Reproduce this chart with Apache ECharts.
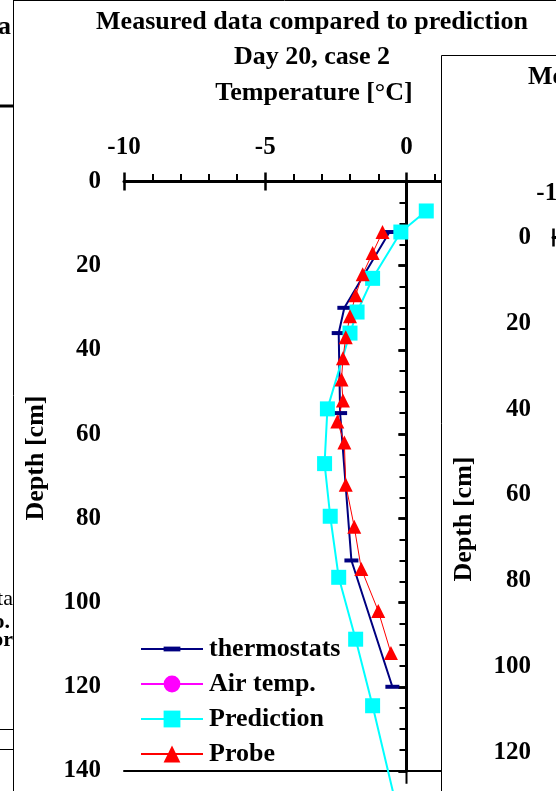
<!DOCTYPE html>
<html><head><meta charset="utf-8">
<script src="https://cdn.jsdelivr.net/npm/echarts@6/dist/echarts.min.js"></script>
<style>html,body{margin:0;padding:0;background:#fff}#c{width:556px;height:791px}</style>
</head><body><div id="c"></div>
<script>
// ---- chart text ----
const titleLines = ['Measured data compared to prediction', 'Day 20, case 2'];
const xAxisName = 'Temperature [°C]';
const yAxisName = 'Depth [cm]';
const seriesNames = ['thermostats', 'Air temp.', 'Prediction', 'Probe'];

// ---- data (temperature °C, depth cm) ----
const thermoDepth = [12, 30, 36, 55, 90, 120];
const thermoTemp  = [-0.6, -2.2, -2.4, -2.35, -1.95, -0.5];
const airDepth = [];
const airTemp  = [];
const predDepth = [7, 12, 23, 31, 36, 54, 67, 79.5, 94, 108.7, 124.5, 150];
const predTemp  = [0.7, -0.2, -1.2, -1.75, -2.0, -2.8, -2.9, -2.7, -2.4, -1.8, -1.2, -0.3];
const probeDepth = [12, 17, 22, 27, 32, 37, 42, 47, 52, 57, 62, 72, 82, 92, 102, 112];
const probeTemp  = [-0.85, -1.2, -1.55, -1.8, -2.0, -2.15, -2.25, -2.3, -2.25, -2.45, -2.2, -2.15, -1.85, -1.6, -1.0, -0.55];
const zeroLineTemp = [0, 0];
const zeroLineDepth = [0, 143];

// ---- axis ranges ----
const xMin = -10, xMax = 5, xInterval = 5;
const yMin = 0, yMax = 140, yInterval = 20;

const FONT = '"Liberation Serif", "Times New Roman", serif';
const pairs = (xs, ys) => xs.map((v, i) => [v, ys[i]]);
const lbl = {fontFamily: FONT, fontWeight: 'bold', fontSize: 25, color: '#000'};
const dashPath = 'path://M0,0M14,14M0,5H14V9H0Z';

function valueX(gridIndex, extra) {
  return Object.assign({
    type: 'value', gridIndex, min: xMin, max: xMax, interval: xInterval,
    splitLine: {show: false}
  }, extra);
}
function valueY(gridIndex, extra) {
  return Object.assign({
    type: 'value', gridIndex, inverse: true, min: yMin, max: yMax, interval: yInterval,
    splitLine: {show: false}
  }, extra);
}
const mainLine = {show: true, lineStyle: {color: '#000', width: 3}};
const majorOut = {show: true, inside: false, length: 9, lineStyle: {color: '#000', width: 2.5}};
const majorIn = {show: true, inside: true, length: 9, lineStyle: {color: '#000', width: 2.5}};

const chart = echarts.init(document.getElementById('c'));
chart.setOption({
  animation: false,
  backgroundColor: '#fff',
  grid: [
    {left: 124, top: 181.5, width: 423.75, height: 589.5, outerBoundsMode: 'none', containLabel: false},
    {left: 553, top: 237.5, width: 400, height: 600.6, outerBoundsMode: 'none', containLabel: false}
  ],
  xAxis: [
    valueX(0, {position: 'top', axisLine: mainLine, axisTick: majorOut,
      minorTick: {show: true, splitNumber: 5, length: 7.5, lineStyle: {color: '#000', width: 2}},
      axisLabel: Object.assign({margin: 21}, lbl)}),
    valueX(0, {position: 'top', axisLine: {show: false}, axisTick: majorIn, axisLabel: {show: false}}),
    valueX(0, {position: 'bottom', axisLine: {show: true, lineStyle: {color: '#000', width: 2}},
      axisTick: {show: false}, axisLabel: {show: false}}),
    valueX(1, {position: 'top', z: 30, axisLine: mainLine, axisTick: majorOut,
      minorTick: {show: true, splitNumber: 5, length: 7.5, lineStyle: {color: '#000', width: 2}},
      axisLabel: Object.assign({margin: 31}, lbl)}),
    valueX(1, {position: 'top', z: 30, axisLine: {show: false}, axisTick: majorIn, axisLabel: {show: false}})
  ],
  yAxis: [
    valueY(0, {axisLine: mainLine, axisTick: Object.assign({}, majorOut, {length: 8}),
      minorTick: {show: true, splitNumber: 4, length: 7, lineStyle: {color: '#000', width: 2}},
      axisLabel: Object.assign({margin: 23}, lbl)}),
    valueY(0, {axisLine: {show: false}, axisTick: Object.assign({}, majorIn, {length: 8}), axisLabel: {show: false}}),
    valueY(1, {z: 30, axisLine: mainLine, axisTick: Object.assign({}, majorOut, {length: 8}),
      minorTick: {show: true, splitNumber: 4, length: 7, lineStyle: {color: '#000', width: 2}},
      axisLabel: Object.assign({margin: 22}, lbl)}),
    valueY(1, {z: 30, axisLine: {show: false}, axisTick: Object.assign({}, majorIn, {length: 8}), axisLabel: {show: false}})
  ],
  legend: {
    orient: 'vertical', left: 140, top: 636, itemWidth: 62, itemHeight: 21, itemGap: 9,
    padding: 0,
    textStyle: {fontFamily: FONT, fontWeight: 'bold', fontSize: 26, color: '#000', padding: [0, 0, 0, 1]},
    data: seriesNames
  },
  series: [
    {type: 'line', name: 'zero', xAxisIndex: 0, yAxisIndex: 0, data: pairs(zeroLineTemp, zeroLineDepth),
      symbol: 'none', clip: false, silent: true, z: 1, lineStyle: {color: '#000', width: 2}},
    {type: 'line', name: seriesNames[0], xAxisIndex: 0, yAxisIndex: 0, data: pairs(thermoTemp, thermoDepth),
      symbol: dashPath, symbolSize: 14, color: '#000080', lineStyle: {color: '#000080', width: 2},
      itemStyle: {color: '#000080'}, clip: false},
    {type: 'line', name: seriesNames[1], xAxisIndex: 0, yAxisIndex: 0, data: pairs(airTemp, airDepth),
      symbol: 'circle', symbolSize: 14, color: '#FF00FF', lineStyle: {color: '#FF00FF', width: 2},
      itemStyle: {color: '#FF00FF'}},
    {type: 'line', name: seriesNames[2], xAxisIndex: 0, yAxisIndex: 0, data: pairs(predTemp, predDepth),
      symbol: 'rect', symbolSize: 15, color: '#00FFFF', lineStyle: {color: '#00FFFF', width: 2},
      itemStyle: {color: '#00FFFF'}, clip: false},
    {type: 'line', name: seriesNames[3], xAxisIndex: 0, yAxisIndex: 0, data: pairs(probeTemp, probeDepth),
      symbol: 'triangle', symbolSize: 14, color: '#FF0000', lineStyle: {color: '#FF0000', width: 1},
      itemStyle: {color: '#FF0000'}, clip: false}
  ],
  graphic: [
    // fragments of the neighbouring chart on the left
    {type: 'text', x: 11, y: 27, z: -2, style: {text: 'a', font: 'bold 26px ' + FONT, fill: '#000', align: 'right', verticalAlign: 'middle'}},
    {type: 'line', z: -2, shape: {x1: 0, y1: 106, x2: 13, y2: 106}, style: {stroke: '#000', lineWidth: 3}},
    {type: 'text', x: 13, y: 599, z: -2, style: {text: 'ta', font: '22px ' + FONT, fill: '#000', align: 'right', verticalAlign: 'middle'}},
    {type: 'text', x: 10, y: 622, z: -2, style: {text: 'o.', font: 'bold 22px ' + FONT, fill: '#000', align: 'right', verticalAlign: 'middle'}},
    {type: 'text', x: 13, y: 640, z: -2, style: {text: 'or', font: 'bold 22px ' + FONT, fill: '#000', align: 'right', verticalAlign: 'middle'}},
    {type: 'line', z: -2, shape: {x1: 0, y1: 729.5, x2: 13, y2: 729.5}, style: {stroke: '#000', lineWidth: 1}},
    {type: 'line', z: -2, shape: {x1: 0, y1: 749.5, x2: 13, y2: 749.5}, style: {stroke: '#000', lineWidth: 1}},
    // frame of this chart
    {type: 'line', z: -1, shape: {x1: 13.5, y1: 0, x2: 13.5, y2: 791}, style: {stroke: '#000', lineWidth: 1}},
    {type: 'line', z: -1, shape: {x1: 13, y1: 0.5, x2: 556, y2: 0.5}, style: {stroke: '#000', lineWidth: 1}},
    // titles
    {type: 'text', x: 312, y: 22, style: {text: titleLines[0], font: 'bold 26px ' + FONT, fill: '#000', align: 'center', verticalAlign: 'middle'}},
    {type: 'text', x: 312, y: 57, style: {text: titleLines[1], font: 'bold 26px ' + FONT, fill: '#000', align: 'center', verticalAlign: 'middle'}},
    {type: 'text', x: 314, y: 93, style: {text: xAxisName, font: 'bold 26px ' + FONT, fill: '#000', align: 'center', verticalAlign: 'middle'}},
    {type: 'text', x: 36, y: 458, rotation: Math.PI / 2, style: {text: yAxisName, font: 'bold 26px ' + FONT, fill: '#000', align: 'center', verticalAlign: 'middle'}},
    // neighbouring chart on the right, lying on top
    {type: 'rect', z: 20, shape: {x: 441.5, y: 55.5, width: 200, height: 800}, style: {fill: '#fff', stroke: '#000', lineWidth: 1}},
    {type: 'text', z: 30, x: 528, y: 77, style: {text: titleLines[0], font: 'bold 26px ' + FONT, fill: '#000', align: 'left', verticalAlign: 'middle'}},
    {type: 'text', z: 30, x: 464, y: 519, rotation: Math.PI / 2, style: {text: yAxisName, font: 'bold 26px ' + FONT, fill: '#000', align: 'center', verticalAlign: 'middle'}}
  ]
});
</script>
</body></html>
